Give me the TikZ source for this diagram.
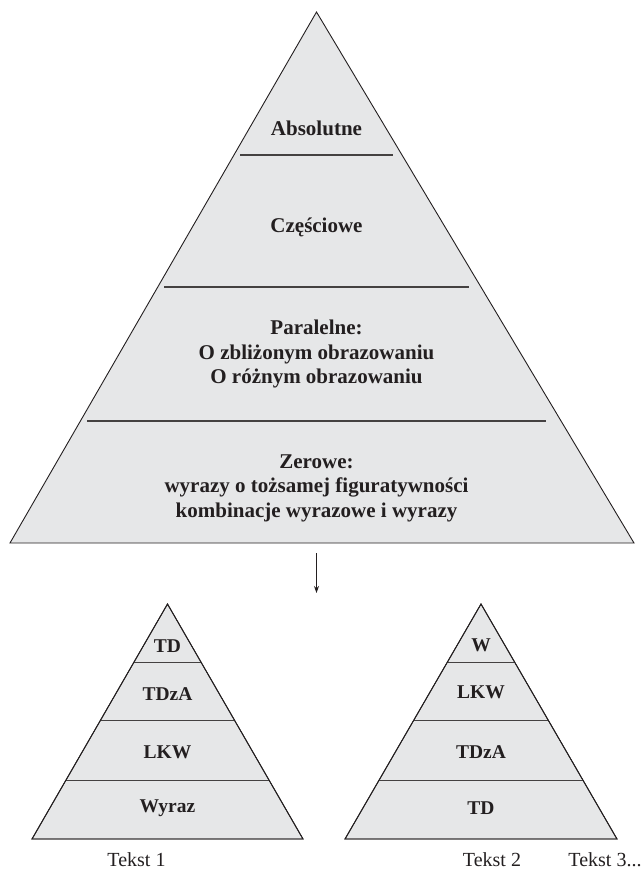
\documentclass[tikz,border=0pt]{standalone}
\usepackage{fontspec}
\setmainfont{Liberation Serif}
\usetikzlibrary{arrows.meta}
\definecolor{pyrfill}{HTML}{E6E7E8}
\definecolor{ink}{HTML}{231F20}
\tikzset{
  pyr/.style={fill=pyrfill, draw=ink, line width=0.9pt, line join=miter},
  divline/.style={draw=ink!85, line width=1.1pt},
  bigtxt/.style={font=\fontsize{21}{24.5}\selectfont\bfseries, text=ink, align=center, inner sep=0pt},
  smalltxt/.style={font=\fontsize{19.5}{23}\selectfont\bfseries, text=ink, inner sep=0pt},
  lbl/.style={font=\fontsize{20}{24}\selectfont, text=ink, inner sep=0pt, anchor=base},
}
\begin{document}
\begin{tikzpicture}[x=1pt,y=-1pt]
\useasboundingbox (0,0) rectangle (643,877);
% big pyramid
\path[pyr] (316.5,12) -- (634,543) -- (10,543) -- cycle;
\draw[divline] (240,155) -- (393,155);
\draw[divline] (164,287) -- (469,287);
\draw[divline] (87,421) -- (546,421);
\node[bigtxt, anchor=base] (abs) at (316.5,136) {Absolutne};
\node[bigtxt, anchor=base] (cze) at (316.5,233) {Częściowe};
\node[bigtxt] (par) at (316.5,354) {Paralelne:\\O zbliżonym obrazowaniu\\O różnym obrazowaniu};
\node[bigtxt] (zer) at (316.5,488) {Zerowe:\\wyrazy o tożsamej figuratywności\\kombinacje wyrazowe i wyrazy};
% arrow
\coordinate (arrS) at (316.5,553);
\coordinate (arrE) at (316.5,593);
\draw[ink, line width=0.9pt, -{Stealth[length=7pt,width=5pt]}] (arrS) -- (arrE);
% left small pyramid
\path[pyr] (167.5,604) -- (303,839) -- (32,839) -- cycle;
\begin{scope}
\clip (167.5,604) -- (303,839) -- (32,839) -- cycle;
\draw[divline] (0,662.7) -- (340,662.7);
\draw[divline] (0,720.7) -- (340,720.7);
\draw[divline] (0,780.7) -- (340,780.7);
\end{scope}
\path[draw=ink, line width=0.9pt] (167.5,604) -- (303,839) -- (32,839) -- cycle;
\node[smalltxt] (l1) at (167.5,646.5) {TD};
\node[smalltxt] (l2) at (167.5,694) {TDzA};
\node[smalltxt] (l3) at (167.5,752) {LKW};
\node[smalltxt] (l4) at (167.5,808) {Wyraz};
% right small pyramid
\path[pyr] (481,604) -- (617,839) -- (345,839) -- cycle;
\begin{scope}
\clip (481,604) -- (617,839) -- (345,839) -- cycle;
\draw[divline] (330,662.7) -- (643,662.7);
\draw[divline] (330,720.7) -- (643,720.7);
\draw[divline] (330,780.7) -- (643,780.7);
\end{scope}
\path[draw=ink, line width=0.9pt] (481,604) -- (617,839) -- (345,839) -- cycle;
\node[smalltxt] (r1) at (481,645) {W};
\node[smalltxt] (r2) at (481,692) {LKW};
\node[smalltxt] (r3) at (481,752) {TDzA};
\node[smalltxt] (r4) at (481,808) {TD};
% labels
\node[lbl] (t1) at (136.5,866) {Tekst 1};
\node[lbl] (t2) at (492,866) {Tekst 2};
\node[lbl] (t3) at (605,866) {Tekst 3...};
\end{tikzpicture}
\end{document}
